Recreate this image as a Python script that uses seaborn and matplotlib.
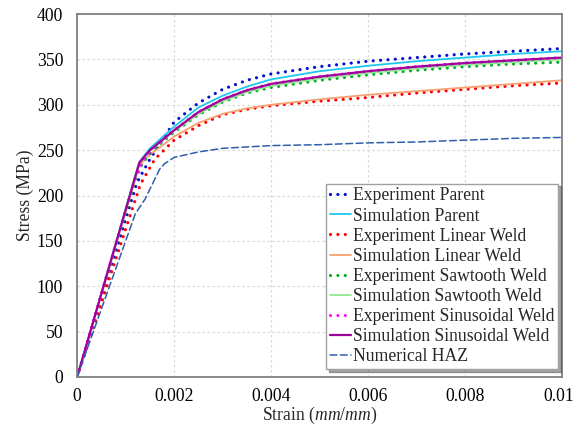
import numpy as np
import pandas as pd
import matplotlib
matplotlib.use("Agg")
import matplotlib.pyplot as plt
import matplotlib.transforms as mtransforms
import seaborn as sns

# strain (mm/mm) and stress (MPa)
strain_exp_parent = [0, 0.00123, 0.0015, 0.002, 0.0025, 0.003, 0.0035, 0.004, 0.005, 0.006, 0.007, 0.008, 0.009, 0.01]
stress_exp_parent = [0, 214, 240, 281, 302, 317, 327, 334, 342, 348, 352, 356, 359, 362]

strain_sim_parent = [0, 0.00128, 0.0015, 0.002, 0.0025, 0.003, 0.0035, 0.004, 0.005, 0.006, 0.007, 0.008, 0.009, 0.01]
stress_sim_parent = [0, 237, 252, 276, 297, 310, 320, 328, 337, 343, 348, 352, 356, 359]

strain_exp_linear = [0, 0.0013, 0.0016, 0.002, 0.0025, 0.003, 0.0035, 0.004, 0.005, 0.006, 0.007, 0.008, 0.009, 0.01]
stress_exp_linear = [0, 212, 240, 261, 277, 289, 295, 299, 304, 308, 313, 317, 321, 324]

strain_sim_linear = [0, 0.00128, 0.0015, 0.002, 0.0025, 0.003, 0.0035, 0.004, 0.005, 0.006, 0.007, 0.008, 0.009, 0.01]
stress_sim_linear = [0, 233, 245, 265, 280, 290, 296, 300, 306, 311, 315, 319, 323, 327]

strain_exp_saw = [0, 0.0012, 0.00135, 0.0016, 0.002, 0.0025, 0.003, 0.0035, 0.004, 0.005, 0.006, 0.007, 0.008, 0.009, 0.01]
stress_exp_saw = [0, 218, 236, 252, 270, 289, 303, 313, 319, 327, 333, 338, 342, 345, 347]

strain_sim_saw = [0, 0.00128, 0.0015, 0.002, 0.0025, 0.003, 0.0035, 0.004, 0.005, 0.006, 0.007, 0.008, 0.009, 0.01]
stress_sim_saw = [0, 236, 249, 271, 290, 304, 314, 321, 329, 335, 340, 344, 347, 350]

strain_exp_sin = [0, 0.0012, 0.00135, 0.0016, 0.002, 0.0025, 0.003, 0.0035, 0.004, 0.005, 0.006, 0.007, 0.008, 0.009, 0.01]
stress_exp_sin = [0, 220, 238, 254, 272, 292, 306, 316, 323, 331, 337, 342, 346, 349, 352]

strain_sim_sin = [0, 0.00128, 0.0015, 0.002, 0.0025, 0.003, 0.0035, 0.004, 0.005, 0.006, 0.007, 0.008, 0.009, 0.01]
stress_sim_sin = [0, 236, 250, 272, 292, 306, 316, 323, 331, 337, 342, 346, 349, 352]

strain_haz = [0, 0.0006, 0.0012, 0.0014, 0.0016, 0.0017, 0.0018, 0.002, 0.0025, 0.003, 0.004, 0.005, 0.006, 0.007, 0.008, 0.009, 0.01]
stress_haz = [0, 90, 180, 196, 218, 229, 235, 242, 248, 252, 255, 256, 258, 259, 261, 263, 264]

x_ticks = [0, 0.002, 0.004, 0.006, 0.008, 0.01]
x_tick_labels = ["0", "0.002", "0.004", "0.006", "0.008", "0.01"]
y_ticks = [0, 50, 100, 150, 200, 250, 300, 350, 400]

dots = (0, (0.01, 2.3))

series = [
    ("Experiment Parent", strain_exp_parent, stress_exp_parent, "#0010d0", dots, 2.3),
    ("Simulation Parent", strain_sim_parent, stress_sim_parent, "#1ec8f0", "-", 1.3),
    ("Experiment Linear Weld", strain_exp_linear, stress_exp_linear, "#ff0000", dots, 2.3),
    ("Simulation Linear Weld", strain_sim_linear, stress_sim_linear, "#f8a070", "-", 1.3),
    ("Experiment Sawtooth Weld", strain_exp_saw, stress_exp_saw, "#00b020", dots, 2.3),
    ("Simulation Sawtooth Weld", strain_sim_saw, stress_sim_saw, "#90e890", "-", 1.3),
    ("Experiment Sinusoidal Weld", strain_exp_sin, stress_exp_sin, "#ff10ff", dots, 2.3),
    ("Simulation Sinusoidal Weld", strain_sim_sin, stress_sim_sin, "#a0009a", "-", 1.6),
    ("Numerical HAZ", strain_haz, stress_haz, "#2f5faa", (0, (4.5, 2.3)), 1.1),
]

fs = 12.7

sns.set_style("white")
plt.rcParams["font.family"] = ["Liberation Serif", "DejaVu Serif"]
plt.rcParams["mathtext.fontset"] = "custom"
plt.rcParams["mathtext.rm"] = "Liberation Serif"
plt.rcParams["mathtext.it"] = "Liberation Serif:italic"

fig, ax = plt.subplots(figsize=(5.76, 4.25), dpi=100)
fig.subplots_adjust(left=0.134, right=0.976, bottom=0.113, top=0.967)

for label, xs, ys, color, ls, lw in series:
    df = pd.DataFrame({"strain": xs, "stress": ys})
    sns.lineplot(data=df, x="strain", y="stress", ax=ax, color=color,
                 linestyle=ls, linewidth=lw, dash_capstyle="round",
                 sort=False, estimator=None, label=label)

ax.set_xlim(0, 0.01)
ax.set_ylim(0, 400)
ax.set_xticks(x_ticks)
ax.set_xticklabels(x_tick_labels)
ax.set_yticks(y_ticks)
ax.tick_params(axis="both", length=0, labelsize=fs, colors="black")
ax.tick_params(axis="x", pad=8)
ax.tick_params(axis="y", pad=10)
ax.grid(True, color="#dadada", linestyle=(0, (2, 2)), linewidth=0.9)
for sp in ax.spines.values():
    sp.set_color("#808080")
    sp.set_linewidth(1.3)

# keep the last x label inside the canvas
last = ax.get_xticklabels()[-1]
last.set_transform(last.get_transform() + mtransforms.ScaledTranslation(-3 / 100, 0, fig.dpi_scale_trans))

ax.set_xlabel(r"Strain ($\it{mm/mm}$)", fontsize=fs, labelpad=0)
ax.set_ylabel("Stress (MPa)", fontsize=fs, labelpad=2)

leg = ax.legend(loc="lower right", bbox_to_anchor=(0.992, 0.022), borderaxespad=0,
                fontsize=fs, frameon=True, fancybox=False, shadow=True,
                edgecolor="#a0a0a0", framealpha=1, handlelength=1.2,
                handletextpad=0.1, labelspacing=0.175, borderpad=0.22)
leg.get_frame().set_linewidth(1.0)

plt.savefig("out.png", dpi=100)
plt.close()
